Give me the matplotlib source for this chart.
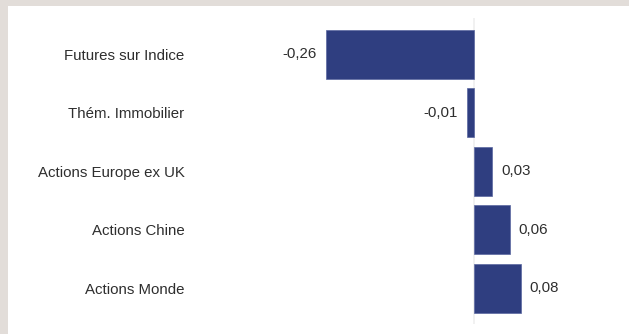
import matplotlib
matplotlib.use("Agg")
import matplotlib.pyplot as plt
from matplotlib.patches import Rectangle

categories = ["Futures sur Indice", "Thém. Immobilier", "Actions Europe ex UK",
              "Actions Chine", "Actions Monde"]
values = [-0.26, -0.012, 0.032, 0.063, 0.082]
labels = ["-0,26", "-0,01", "0,03", "0,06", "0,08"]

plt.rcParams["font.family"] = ["Liberation Sans", "DejaVu Sans"]

W, H = 629, 334
dpi = 100
fig = plt.figure(figsize=(W / dpi, H / dpi), dpi=dpi)
fig.patch.set_facecolor("#e2ddd9")
fig.patches.append(Rectangle((8 / W, 0), 1 - 8 / W, 1 - 6 / H,
                             transform=fig.transFigure, facecolor="white",
                             edgecolor="none", zorder=-10))

# axes in pixels
ax_l, ax_r, ax_t, ax_b = 190, 620, 18, 324
ax = fig.add_axes([ax_l / W, 1 - ax_b / H, (ax_r - ax_l) / W, (ax_b - ax_t) / H])
ax.set_facecolor("none")
ax.set_zorder(5)

scale = 569.0  # px per unit
zero_px = 474
ax.set_xlim(-(zero_px - ax_l) / scale, (ax_r - zero_px) / scale)
ax.set_ylim(4.616, -0.625)

y = list(range(len(categories)))
ax.axvline(0, color="#efefef", lw=1.2, zorder=1)
ax.barh(y, values, height=0.84, color="#2f3e80", edgecolor="#5a67a0",
        linewidth=0.5, zorder=2)

for yi, v, lab in zip(y, values, labels):
    off = 9 if v >= 0 else -9
    ax.annotate(lab, (v, yi), xytext=(off * 0.72, 0), textcoords="offset points",
                ha="left" if v >= 0 else "right", va="center",
                fontsize=10.8, color="#2e2e2e")

ax.set_yticks(y)
ax.set_yticklabels(categories, fontsize=10.8, color="#2e2e2e")
ax.tick_params(axis="y", length=0, pad=4)
ax.set_xticks([])
for s in ax.spines.values():
    s.set_visible(False)

fig.savefig("out.png", dpi=dpi, facecolor=fig.get_facecolor())
